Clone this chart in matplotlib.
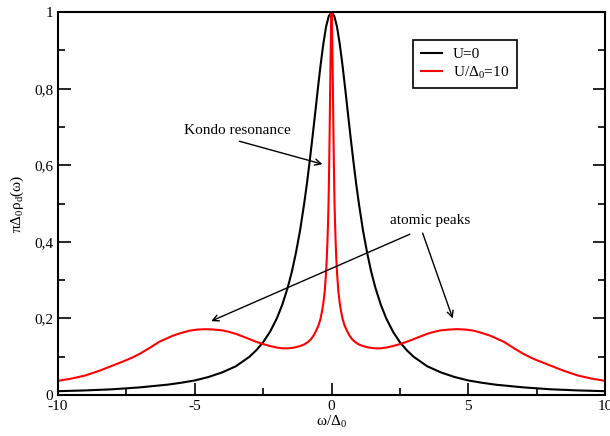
import matplotlib
matplotlib.use("Agg")
import matplotlib.pyplot as plt

plt.rcParams['font.family'] = ['Liberation Serif', 'DejaVu Serif']
plt.rcParams['mathtext.default'] = 'regular'
plt.rcParams['axes.unicode_minus'] = False
plt.rcParams['font.size'] = 11

# U=0 curve (symmetric about 0)
x_u0_half = [0, 0.1, 0.2, 0.3, 0.4, 0.5, 0.6, 0.7, 0.8, 0.9, 1.0, 1.15, 1.3, 1.45, 1.6, 1.8, 2.0,
             2.25, 2.5, 2.75, 3.0, 3.5, 4.0, 4.5, 5.0, 5.5, 6.0, 7.0, 8.0, 9.0, 10.0]
y_u0_half = [1.0, 0.99, 0.962, 0.917, 0.862, 0.80, 0.735, 0.671, 0.61, 0.552, 0.50, 0.43, 0.372, 0.322,
             0.281, 0.236, 0.20, 0.165, 0.138, 0.117, 0.10, 0.075, 0.059, 0.047, 0.038, 0.032, 0.027,
             0.02, 0.015, 0.012, 0.01]

# U/Delta0=10 curve (symmetric about 0)
x_u10_half = [0, 0.01, 0.02, 0.035, 0.05, 0.065, 0.08, 0.095, 0.11, 0.13, 0.15, 0.175, 0.2, 0.25, 0.3,
              0.35, 0.4, 0.47, 0.55, 0.65, 0.75, 0.87, 1.0, 1.15, 1.3, 1.45, 1.6, 1.8, 2.0, 2.25, 2.5,
              2.75, 3.0, 3.25, 3.5, 3.75, 4.0, 4.3, 4.6, 4.9, 5.2, 5.5, 5.8, 6.05, 6.3, 6.65, 7.0,
              7.25, 7.5, 7.75, 8.0, 8.25, 8.5, 8.75, 9.0, 9.25, 9.5, 9.75, 10.0]
y_u10_half = [1.0, 0.985, 0.95, 0.88, 0.80, 0.71, 0.63, 0.56, 0.50, 0.445, 0.40, 0.355, 0.32, 0.27, 0.24,
              0.218, 0.20, 0.183, 0.17, 0.156, 0.146, 0.138, 0.132, 0.128, 0.125, 0.123, 0.122, 0.122,
              0.124, 0.128, 0.133, 0.139, 0.146, 0.153, 0.160, 0.165, 0.169, 0.171, 0.172, 0.171,
              0.168, 0.162, 0.155, 0.147, 0.139, 0.123, 0.108, 0.099, 0.091, 0.084, 0.077, 0.070,
              0.063, 0.057, 0.051, 0.047, 0.043, 0.040, 0.037]

x_u0 = [-v for v in x_u0_half[:0:-1]] + x_u0_half
y_u0 = y_u0_half[:0:-1] + y_u0_half
x_u10 = [-v for v in x_u10_half[:0:-1]] + x_u10_half
y_u10 = y_u10_half[:0:-1] + y_u10_half

fig = plt.figure(figsize=(6.1, 4.36), dpi=100)
ax = fig.add_axes([0.095, 0.094, 0.897, 0.878])

ax.plot(x_u0, y_u0, color='black', lw=1.5, label='U=0')
ax.plot(x_u10, y_u10, color='red', lw=1.5, label=r'U/Δ$_0$=10')

ax.set_xlim(-10, 10)
ax.set_ylim(0, 1)
ax.set_xticks([-10, -5, 0, 5, 10])
ax.set_xticks([-7.5, -2.5, 2.5, 7.5], minor=True)
ax.set_yticks([0, 0.2, 0.4, 0.6, 0.8, 1.0])
ax.set_yticklabels(['0', '0,2', '0,4', '0,6', '0,8', '1'])
ax.set_yticks([0.1, 0.3, 0.5, 0.7, 0.9], minor=True)
ax.tick_params(which='both', direction='in', left=True, right=True, top=False, bottom=True)
ax.tick_params(which='major', length=9, width=1.2)
ax.tick_params(which='minor', length=5, width=1.2)
for s in ax.spines.values():
    s.set_linewidth(1.5)

ax.set_xlabel(r'ω/Δ$_0$', labelpad=1)
ax.set_ylabel(r'πΔ$_0$ρ$_d$(ω)', labelpad=6)

arrow = dict(arrowstyle='->', color='black', lw=1, shrinkA=0, shrinkB=0)
ax.annotate('', xy=(-0.33, 0.603), xytext=(-3.37, 0.663), arrowprops=arrow)
ax.text(-3.45, 0.692, 'Kondo resonance', ha='center', va='center')
ax.annotate('', xy=(-4.4, 0.193), xytext=(2.86, 0.42), arrowprops=arrow)
ax.annotate('', xy=(4.43, 0.2), xytext=(3.33, 0.423), arrowprops=arrow)
ax.text(3.6, 0.457, 'atomic peaks', ha='center', va='center')

leg = ax.legend(loc='upper left', bbox_to_anchor=(0.649, 0.927), fancybox=False,
                edgecolor='black', framealpha=1, handlelength=1.4, handletextpad=0.7,
                borderpad=0.5, labelspacing=0.2, borderaxespad=0)
leg.get_frame().set_linewidth(1.2)

fig.savefig('out.png', dpi=100)
